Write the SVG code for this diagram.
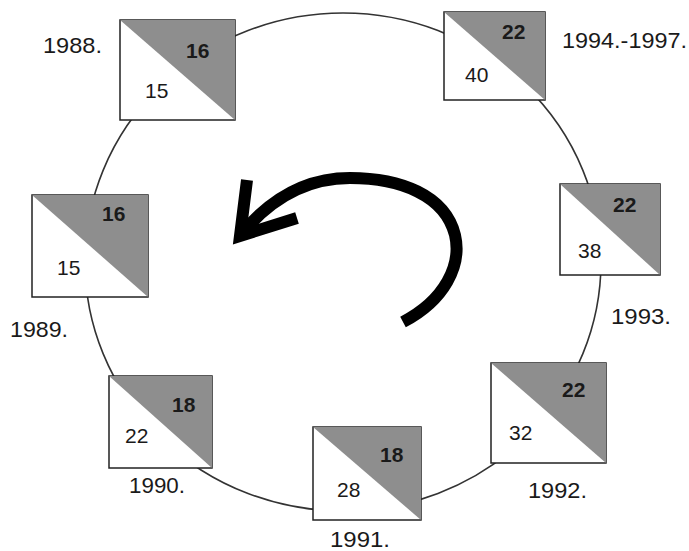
<svg xmlns="http://www.w3.org/2000/svg" width="689" height="551" viewBox="0 0 689 551">
<style>
.box{fill:#fff;stroke:#222;stroke-width:1.5}
.tri{fill:#8e8e8e;stroke:none}
.n{font-family:"Liberation Sans",Arial,sans-serif;font-size:21px;fill:#1a1a1a}
.b{font-weight:bold}
.lbl{font-family:"Liberation Sans",Arial,sans-serif;font-size:22px;fill:#1a1a1a}
.ring{fill:none;stroke:#333;stroke-width:1.6}
.arrow{fill:none;stroke:#000;stroke-width:12;stroke-linecap:butt}
</style>
<rect width="689" height="551" fill="#fff"/>
<g id="connectors">
<ellipse class="ring" cx="343" cy="262" rx="258" ry="249"/>
<path class="arrow" d="M403,322 C445,300 462,265 455,235 C445,195 400,178 350,178 C305,178 270,200 243,232"/>
<polyline class="arrow" points="247,180 240,236 297,218" stroke-linejoin="miter"/>
</g>
<g id="n1988">
<rect class="box" x="120" y="20" width="115" height="100"/>
<polygon class="tri" points="120,20 235,20 235,120"/>
<text class="n b" x="186" y="58">16</text>
<text class="n" x="145" y="98">15</text>
<text class="lbl" x="43" y="53" textLength="59" lengthAdjust="spacingAndGlyphs">1988.</text>
</g>
<g id="n1994">
<rect class="box" x="444" y="12" width="101" height="88"/>
<polygon class="tri" points="444,12 545,12 545,100"/>
<text class="n b" x="502" y="39">22</text>
<text class="n" x="465" y="82">40</text>
<text class="lbl" x="562" y="48" textLength="125" lengthAdjust="spacingAndGlyphs">1994.-1997.</text>
</g>
<g id="n1989">
<rect class="box" x="32" y="195" width="116" height="102"/>
<polygon class="tri" points="32,195 148,195 148,297"/>
<text class="n b" x="102" y="221">16</text>
<text class="n" x="57" y="275">15</text>
<text class="lbl" x="10" y="337" textLength="58" lengthAdjust="spacingAndGlyphs">1989.</text>
</g>
<g id="n1990">
<rect class="box" x="109" y="376" width="103" height="92"/>
<polygon class="tri" points="109,376 212,376 212,468"/>
<text class="n b" x="172" y="412">18</text>
<text class="n" x="125" y="443">22</text>
<text class="lbl" x="129" y="493" textLength="56" lengthAdjust="spacingAndGlyphs">1990.</text>
</g>
<g id="n1991">
<rect class="box" x="313" y="427" width="108" height="93"/>
<polygon class="tri" points="313,427 421,427 421,520"/>
<text class="n b" x="380" y="462">18</text>
<text class="n" x="337" y="497">28</text>
<text class="lbl" x="330" y="547" textLength="60" lengthAdjust="spacingAndGlyphs">1991.</text>
</g>
<g id="n1992">
<rect class="box" x="491" y="363" width="115" height="100"/>
<polygon class="tri" points="491,363 606,363 606,463"/>
<text class="n b" x="562" y="397">22</text>
<text class="n" x="509" y="440">32</text>
<text class="lbl" x="528" y="498" textLength="59" lengthAdjust="spacingAndGlyphs">1992.</text>
</g>
<g id="n1993">
<rect class="box" x="560" y="184" width="100" height="91"/>
<polygon class="tri" points="560,184 660,184 660,275"/>
<text class="n b" x="613" y="212">22</text>
<text class="n" x="578" y="258">38</text>
<text class="lbl" x="611" y="324" textLength="60" lengthAdjust="spacingAndGlyphs">1993.</text>
</g>
</svg>
